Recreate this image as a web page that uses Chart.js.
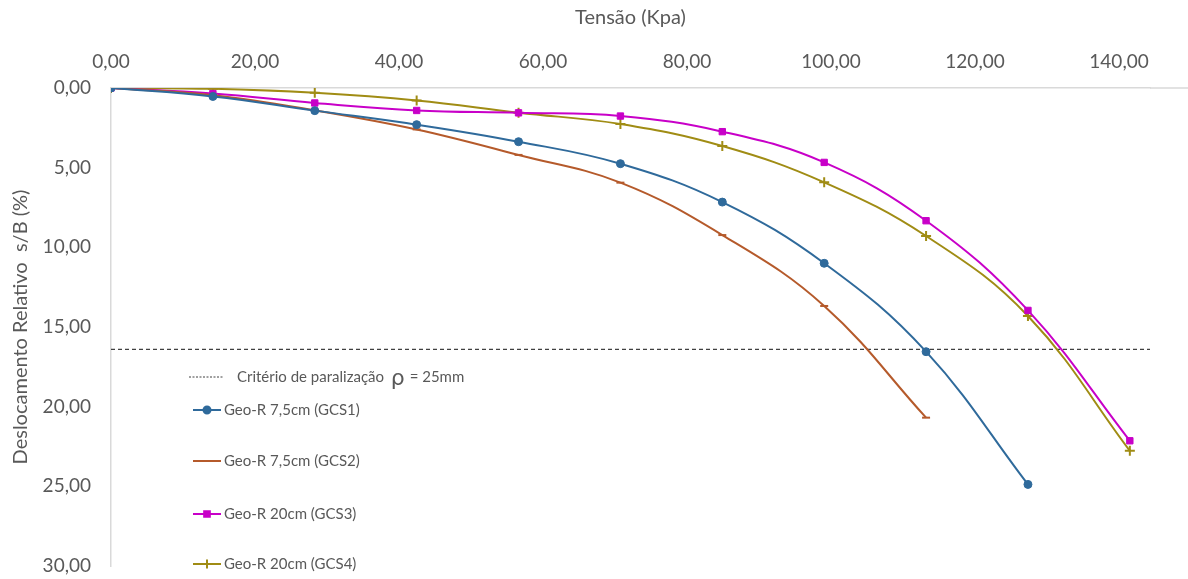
<!DOCTYPE html>
<html lang="pt-BR">
<head>
<meta charset="utf-8">
<title>Tensão x Deslocamento Relativo</title>
<script src="https://cdn.jsdelivr.net/npm/chart.js@4/dist/chart.umd.min.js"></script>
<style>
  html, body { margin: 0; padding: 0; background: #fff; overflow: hidden; }
  #wrap { width: 1188px; height: 579px; position: relative; }
</style>
</head>
<body>
<div id="wrap"><canvas id="grafico"></canvas></div>
<script>
// ---------- Dados ----------
const tensoes = [0, 14.15, 28.30, 42.45, 56.60, 70.75, 84.90, 99.05, 113.20, 127.35, 141.50];

const gcs1 = [0, 0.53, 1.42, 2.30, 3.37, 4.75, 7.16, 11.00, 16.55, 24.88];
const gcs2 = [0, 0.45, 1.40, 2.60, 4.20, 5.94, 9.23, 13.68, 20.69];
const gcs3 = [0, 0.35, 0.94, 1.41, 1.56, 1.76, 2.74, 4.67, 8.33, 13.96, 22.14];
const gcs4 = [0, 0.05, 0.30, 0.78, 1.55, 2.26, 3.64, 5.92, 9.29, 14.31, 22.77];

const nomes = ['Geo-R 7,5cm (GCS1)', 'Geo-R 7,5cm (GCS2)', 'Geo-R 20cm (GCS3)', 'Geo-R 20cm (GCS4)'];

// critério de paralização (rho = 25mm) em s/B (%)
const criterio = 16.4;
const xMax = 144.3;

const xTicks = [0, 20, 40, 60, 80, 100, 120, 140];
const yTicks = [0, 5, 10, 15, 20, 25, 30];

// ---------- Estilo ----------
const CINZA = '#595959';
const cores = ['#2F6A9B', '#B55A2B', '#C800C8', '#A08C14'];
const marcadores = ['circle', 'line', 'rect', 'cross'];
const raios = [4, 4, 4.5, 5];

const fmt = v => Number(v).toFixed(2).replace('.', ',');
const pares = serie => serie.map((y, i) => ({ x: tensoes[i], y: y }));

const series = [gcs1, gcs2, gcs3, gcs4].map((s, i) => ({
  label: nomes[i],
  data: pares(s),
  showLine: true,
  tension: 0.4,
  borderColor: cores[i],
  backgroundColor: cores[i],
  borderWidth: 2,
  pointStyle: marcadores[i],
  pointRadius: raios[i],
  pointBorderWidth: marcadores[i] === 'circle' || marcadores[i] === 'rect' ? 1 : 2,
  pointBorderColor: cores[i],
  pointBackgroundColor: cores[i]
}));

const linhaCriterio = {
  label: 'Critério de paralização ρ = 25mm',
  data: [{ x: 0, y: criterio }, { x: xMax, y: criterio }],
  showLine: true,
  borderColor: '#404040',
  borderWidth: 1.2,
  borderDash: [4, 3],
  pointRadius: 0,
  tension: 0
};

// linha do eixo superior prolongada até a borda
const eixoTopo = {
  id: 'eixoTopo',
  beforeDatasetsDraw(chart) {
    const { ctx, chartArea } = chart;
    ctx.save();
    ctx.strokeStyle = '#D9D9D9';
    ctx.lineWidth = 1.5;
    ctx.beginPath();
    ctx.moveTo(chartArea.right, chartArea.top);
    ctx.lineTo(chart.width, chartArea.top);
    ctx.stroke();
    ctx.restore();
  }
};

// legenda dentro da área do gráfico
const legendaInterna = {
  id: 'legendaInterna',
  afterDraw(chart) {
    const { ctx } = chart;
    ctx.save();
    ctx.textBaseline = 'middle';
    ctx.fillStyle = CINZA;

    // linha tracejada do critério
    ctx.strokeStyle = '#404040';
    ctx.lineWidth = 1;
    ctx.setLineDash([2, 1.5]);
    ctx.beginPath();
    ctx.moveTo(189, 377);
    ctx.lineTo(223, 377);
    ctx.stroke();
    ctx.setLineDash([]);

    ctx.font = '15px Lato';
    const t1 = 'Critério de paralização ';
    ctx.fillText(t1, 237, 377);
    let x = 237 + ctx.measureText(t1).width + 3;
    ctx.font = '22px "DejaVu Sans"';
    ctx.fillText('ρ', x, 379);
    x += ctx.measureText('ρ').width + 1;
    ctx.font = '15px Lato';
    ctx.fillText(' = 25mm', x, 377);

    const linhasY = [410, 461, 514, 564];
    chart.data.datasets.slice(0, 4).forEach((ds, i) => {
      const y = linhasY[i];
      ctx.strokeStyle = ds.borderColor;
      ctx.lineWidth = 2;
      ctx.beginPath();
      ctx.moveTo(193, y);
      ctx.lineTo(221, y);
      ctx.stroke();
      ctx.fillStyle = ds.borderColor;
      Chart.helpers.drawPoint(ctx, {
        pointStyle: ds.pointStyle,
        radius: ds.pointRadius - 0.5,
        borderWidth: ds.pointBorderWidth,
        rotation: 0
      }, 207, y);
      ctx.fillStyle = CINZA;
      ctx.font = '15px Lato';
      ctx.fillText(ds.label, 224, y);
    });
    ctx.restore();
  }
};

const ctx = document.getElementById('grafico').getContext('2d');
new Chart(ctx, {
  type: 'scatter',
  data: { datasets: [...series, linhaCriterio] },
  options: {
    responsive: true,
    maintainAspectRatio: false,
    animation: false,
    layout: { padding: { left: 0, top: 0, right: 38, bottom: 13 } },
    plugins: {
      legend: { display: false },
      tooltip: { enabled: false }
    },
    scales: {
      x: {
        type: 'linear',
        position: 'top',
        min: 0,
        max: xMax,
        afterBuildTicks: s => { s.ticks = xTicks.map(v => ({ value: v })); },
        afterFit: s => { s.height = 88; s.paddingLeft = 0; s.paddingRight = 0; },
        grid: { display: true, drawOnChartArea: false, drawTicks: false },
        border: { display: true, color: '#D9D9D9', width: 1.5 },
        ticks: {
          padding: 15,
          color: CINZA,
          font: { family: 'Lato', size: 19 },
          maxRotation: 0,
          callback: v => fmt(v)
        },
        title: {
          display: true,
          text: 'Tensão (Kpa)',
          color: CINZA,
          font: { family: 'Lato', size: 20 },
          padding: { top: 6, bottom: 0 }
        }
      },
      y: {
        type: 'linear',
        reverse: true,
        min: 0,
        max: 30,
        afterBuildTicks: s => { s.ticks = yTicks.map(v => ({ value: v })); },
        afterFit: s => { s.width = 111; s.paddingTop = 0; s.paddingBottom = 0; },
        grid: { display: true, drawOnChartArea: false, drawTicks: false },
        border: { display: true, color: '#D9D9D9', width: 1.5 },
        ticks: {
          padding: 20,
          color: CINZA,
          font: { family: 'Lato', size: 19 },
          callback: v => fmt(v)
        },
        title: {
          display: true,
          text: 'Deslocamento Relativo  s/B (%)',
          color: CINZA,
          font: { family: 'Lato', size: 20 },
          padding: { top: 9, bottom: 0 }
        }
      }
    }
  },
  plugins: [eixoTopo, legendaInterna]
});
</script>
</body>
</html>
